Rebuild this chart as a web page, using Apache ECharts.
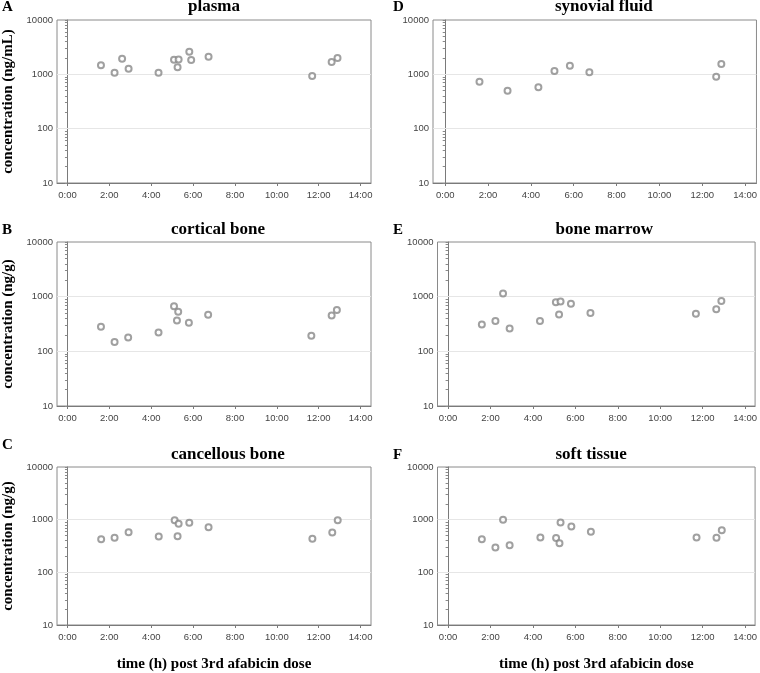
<!DOCTYPE html>
<html>
<head>
<meta charset="utf-8">
<script src="https://cdn.jsdelivr.net/npm/echarts@6/dist/echarts.min.js"></script>
<style>html,body{margin:0;padding:0;background:#fff;}#c{width:760px;height:673px;}</style>
</head>
<body>
<div id="c"></div>
<script>
// ---- data (time in hours post 3rd dose, concentration) ----
var plasmaTime = [1.60, 2.25, 2.61, 2.92, 4.35, 5.09, 5.31, 5.26, 5.82, 5.91, 6.74, 11.69, 12.62, 12.90];
var plasmaConc = [1470, 1070, 1940, 1270, 1070, 1860, 1880, 1350, 2610, 1840, 2110, 930, 1690, 2000];
var synovialTime = [1.60, 2.91, 4.35, 5.10, 5.82, 6.73, 12.65, 12.89];
var synovialConc = [730, 500, 580, 1150, 1440, 1090, 900, 1550];
var corticalTime = [1.60, 2.25, 2.90, 4.35, 5.09, 5.29, 5.23, 5.80, 6.72, 11.65, 12.62, 12.87];
var corticalConc = [281, 148, 180, 222, 671, 528, 368, 333, 466, 193, 454, 568];
var marrowTime = [1.59, 2.23, 2.59, 2.90, 4.33, 5.08, 5.30, 5.23, 5.79, 6.71, 11.68, 12.64, 12.88];
var marrowConc = [311, 357, 1140, 263, 357, 794, 817, 473, 739, 500, 485, 591, 837];
var cancellousTime = [1.61, 2.25, 2.92, 4.36, 5.12, 5.31, 5.26, 5.82, 6.74, 11.70, 12.65, 12.91];
var cancellousConc = [423, 454, 574, 479, 980, 837, 485, 875, 721, 436, 568, 980];
var softTime = [1.59, 2.23, 2.59, 2.90, 4.35, 5.09, 5.30, 5.25, 5.81, 6.73, 11.71, 12.65, 12.90];
var softConc = [423, 297, 1000, 328, 460, 447, 885, 357, 739, 591, 460, 453, 632];

var xTickValues = [0, 2, 4, 6, 8, 10, 12, 14];
var yTickLabels = [10, 100, 1000, 10000];
var yGridLines = [100, 1000];
var yMinorTicks = [10,20,30,40,50,60,70,80,90,100,200,300,400,500,600,700,800,900,1000,2000,3000,4000,5000,6000,7000,8000,9000,10000];

var panelTitles = ['plasma', 'synovial fluid', 'cortical bone', 'bone marrow', 'cancellous bone', 'soft tissue'];
var panelLetters = ['A', 'D', 'B', 'E', 'C', 'F'];
var yNames = ['concentration (ng/mL)', '', 'concentration (ng/g)', '', 'concentration (ng/g)', ''];
var xName = 'time (h) post 3rd afabicin dose';

var panelX = [plasmaTime, synovialTime, corticalTime, marrowTime, cancellousTime, softTime];
var panelY = [plasmaConc, synovialConc, corticalConc, marrowConc, cancellousConc, softConc];

// ---- layout ----
var grids = [
  {left: 49, top: 20, width: 322, height: 163},
  {left: 433, top: 20, width: 324, height: 163},
  {left: 49, top: 242, width: 322, height: 164},
  {left: 437.5, top: 242, width: 320, height: 164},
  {left: 49, top: 467, width: 322, height: 164},
  {left: 437.5, top: 467, width: 320, height: 164}
];
var xMins = [-0.5, -0.57, -0.5, -0.5, -0.5, -0.5];
var xMaxs = [14.5, 14.53, 14.5, 14.47, 14.5, 14.47];
var titlePos = [[188, 7], [555, 7], [171, 230], [555.5, 230], [171, 455], [555.5, 455]];
var letterPos = [[2, 7], [393, 7], [2, 230], [393, 230], [2, 445], [393, 455]];

var serif = '"Liberation Serif", "Times New Roman", serif';
var sans = '"Liberation Sans", Arial, sans-serif';

var option = {
  animation: false,
  backgroundColor: '#fff',
  grid: grids.map(function (g) {
    return Object.assign({show: true, borderColor: '#8a8a8a', borderWidth: 1, backgroundColor: 'transparent', containLabel: false}, g);
  }),
  xAxis: grids.map(function (g, i) {
    return {
      type: 'value', gridIndex: i, min: xMins[i], max: xMaxs[i],
      name: i >= 4 ? xName : '', nameLocation: 'middle', nameGap: 32,
      nameTextStyle: {fontFamily: serif, fontWeight: 'bold', fontSize: 15, color: '#000'},
      axisLine: {show: true, lineStyle: {color: '#7a7a7a', width: 1}},
      axisTick: {show: true, length: 3, customValues: xTickValues, lineStyle: {color: '#7a7a7a'}},
      axisLabel: {customValues: xTickValues, margin: 7, fontFamily: sans, fontSize: 9.5, color: '#444',
        formatter: function (v) { return Math.round(v) + ':00'; }},
      splitLine: {show: false}
    };
  }),
  yAxis: grids.map(function (g, i) {
    return {
      type: 'log', logBase: 10, gridIndex: i, min: 10, max: 10000,
      name: yNames[i], nameLocation: 'middle', nameGap: 41, nameRotate: 90,
      nameTextStyle: {fontFamily: serif, fontWeight: 'bold', fontSize: 15, color: '#000'},
      axisLine: {show: true, lineStyle: {color: '#7a7a7a', width: 1}},
      axisTick: {show: true, length: 2.5, customValues: yMinorTicks, lineStyle: {color: '#8a8a8a'}},
      axisLabel: {customValues: yTickLabels, margin: 4, fontFamily: sans, fontSize: 9.5, color: '#444',
        formatter: function (v) { return String(Math.round(v)); }},
      splitLine: {show: false}
    };
  }),
  series: grids.map(function (g, i) {
    return {
      type: 'scatter', xAxisIndex: i, yAxisIndex: i,
      data: panelX[i].map(function (t, k) { return [t, panelY[i][k]]; }),
      symbol: 'circle', symbolSize: 6,
      itemStyle: {color: '#fff', borderColor: '#888', borderWidth: 2},
      markLine: {
        silent: true, symbol: 'none', z: 1, animation: false,
        label: {show: false},
        lineStyle: {color: '#e6e6e6', width: 1, type: 'solid'},
        emphasis: {disabled: true},
        data: yGridLines.map(function (v) { return {yAxis: v}; })
      },
      z: 5
    };
  }),
  graphic: panelTitles.map(function (t, i) {
    return {type: 'text', x: titlePos[i][0], y: titlePos[i][1],
      style: {text: t, font: 'bold 17px ' + serif, fill: '#000', textAlign: 'left', textVerticalAlign: 'middle'}};
  }).concat(panelLetters.map(function (t, i) {
    return {type: 'text', x: letterPos[i][0], y: letterPos[i][1],
      style: {text: t, font: 'bold 15px ' + serif, fill: '#000', textAlign: 'left', textVerticalAlign: 'middle'}};
  }))
};

var chart = echarts.init(document.getElementById('c'), null, {renderer: 'canvas'});
chart.setOption(option);
</script>
</body>
</html>
